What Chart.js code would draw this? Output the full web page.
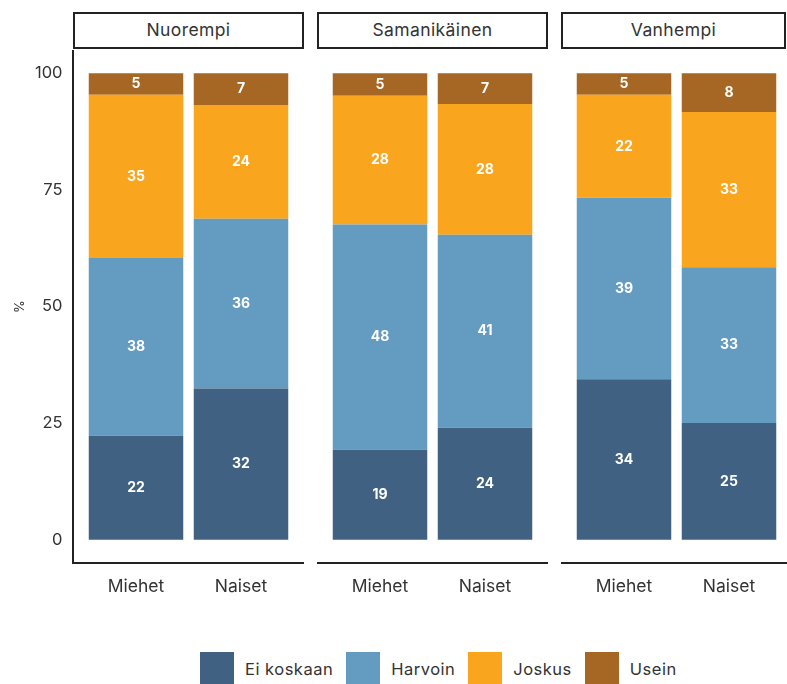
<!DOCTYPE html>
<html>
<head>
<meta charset="utf-8">
<script src="https://cdn.jsdelivr.net/npm/chart.js@4.4.1/dist/chart.umd.min.js"></script>
<style>
  body { margin: 0; width: 787px; height: 684px; overflow: hidden; position: relative; background: #fff; font-family: Inter, "Open Sans", sans-serif; color: #333; }
  .strip { position: absolute; top: 12px; height: 37px; width: 231px; box-sizing: border-box; border: 2px solid #222; text-align: center; line-height: 32px; font-size: 17.5px; letter-spacing: 0.4px; color: #333; }
  canvas { position: absolute; top: 50px; }
  .legend { position: absolute; left: 200px; top: 652px; display: flex; align-items: center; }
  .legend .box { width: 34px; height: 34px; margin-right: 11px; }
  .legend .lab { font-size: 16.5px; letter-spacing: 0.5px; margin-right: 13px; color: #333; }
</style>
</head>
<body>
<div class="legend" id="legend"></div>
<script>
var agegroups = ['Nuorempi', 'Samanikäinen', 'Vanhempi'];
var sexes = ['Miehet', 'Naiset'];
var answers = ['Ei koskaan', 'Harvoin', 'Joskus', 'Usein'];
var colours = ['#406182', '#649bc1', '#faa51e', '#a56723'];
// order: Nuorempi M, N, Samanikäinen M, N, Vanhempi M, N
var eiKoskaan = [22.3, 32.4, 19.3, 24.0, 34.4, 25.0];
var harvoin = [38.1, 36.4, 48.3, 41.4, 38.9, 33.4];
var joskus = [35.0, 24.4, 27.6, 28.0, 22.1, 33.3];
var usein = [4.6, 6.8, 4.8, 6.6, 4.6, 8.3];
var yTicks = [0, 25, 50, 75, 100];

var series = [eiKoskaan, harvoin, joskus, usein];
var panelLeft = [73, 317, 561];
var pad = 10.5;

// boxed facet titles
agegroups.forEach(function(g, i) {
    var d = document.createElement('div');
    d.className = 'strip';
    d.style.left = panelLeft[i] + 'px';
    if (i == 2) d.style.width = '225px';
    d.textContent = g;
    document.body.appendChild(d);
});

// legend
var leg = document.getElementById('legend');
answers.forEach(function(a, i) {
    var b = document.createElement('span');
    b.className = 'box';
    b.style.background = colours[i];
    var t = document.createElement('span');
    t.className = 'lab';
    t.textContent = a;
    leg.appendChild(b);
    leg.appendChild(t);
});

var panelPlugin = {
    id: 'panelPlugin',
    afterDatasetsDraw: function(chart) {
        var ctx = chart.ctx;
        ctx.save();
        ctx.fillStyle = '#fff';
        ctx.font = 'bold 14px Inter, sans-serif';
        ctx.textAlign = 'center';
        ctx.textBaseline = 'middle';
        chart.data.datasets.forEach(function(ds, di) {
            chart.getDatasetMeta(di).data.forEach(function(bar, j) {
                ctx.fillText(Math.round(ds.data[j]), bar.x, (bar.y + bar.base) / 2);
            });
        });
        ctx.restore();
    },
    afterDraw: function(chart) {
        var ctx = chart.ctx;
        var a = chart.chartArea;
        ctx.save();
        ctx.strokeStyle = '#222';
        ctx.lineWidth = 2;
        ctx.beginPath();
        if (chart.options.plugins.panelPlugin.leftLine) {
            ctx.moveTo(a.left - pad, a.top);
            ctx.lineTo(a.left - pad, a.bottom);
        } else {
            ctx.moveTo(a.left - pad, a.bottom);
        }
        ctx.lineTo(a.right + pad, a.bottom);
        ctx.stroke();
        ctx.restore();
    }
};

function makePanel(p) {
    var canvas = document.createElement('canvas');
    var first = p == 0;
    var w = first ? panelLeft[0] + 231 : 231;
    canvas.width = w;
    canvas.height = 570;
    canvas.style.left = (first ? 0 : panelLeft[p]) + 'px';
    document.body.appendChild(canvas);

    var datasets = answers.map(function(a, i) {
        return {
            label: a,
            data: series[i].slice(p * 2, p * 2 + 2),
            backgroundColor: colours[i],
            borderWidth: 0,
            categoryPercentage: 0.9,
            barPercentage: 1
        };
    });

    var yScale = {
        stacked: true,
        display: first,
        min: -5,
        max: 105,
        grid: { display: false, drawTicks: false },
        border: { display: false },
        afterBuildTicks: function(s) {
            s.ticks = yTicks.map(function(v) { return { value: v }; });
        },
        ticks: { padding: 21, color: '#333', font: { family: 'Inter', size: 16.5 } },
        title: { display: true, text: '%', color: '#333', font: { family: 'Inter', size: 13 }, padding: { top: 12, bottom: 0 } }
    };
    if (first) {
        yScale.afterFit = function(s) {
            s.width = panelLeft[0] + pad;
            s.paddingTop = 0;
            s.paddingBottom = 0;
        };
    }

    new Chart(canvas.getContext('2d'), {
        type: 'bar',
        data: { labels: sexes, datasets: datasets },
        plugins: [panelPlugin],
        options: {
            responsive: false,
            animation: false,
            devicePixelRatio: 1,
            layout: { padding: { left: first ? 0 : pad, right: pad, top: 0, bottom: 0 } },
            plugins: {
                legend: { display: false },
                tooltip: { enabled: false },
                panelPlugin: { leftLine: first }
            },
            scales: {
                x: {
                    stacked: true,
                    grid: { display: false, drawTicks: false },
                    border: { display: false },
                    ticks: { padding: 13, color: '#333', font: { family: 'Inter', size: 17.5 } },
                    afterFit: function(s) {
                        s.height = 57;
                        s.paddingLeft = 0;
                        s.paddingRight = 0;
                    }
                },
                y: yScale
            }
        }
    });
}

for (var p = 0; p < agegroups.length; p++) makePanel(p);
</script>
</body>
</html>
